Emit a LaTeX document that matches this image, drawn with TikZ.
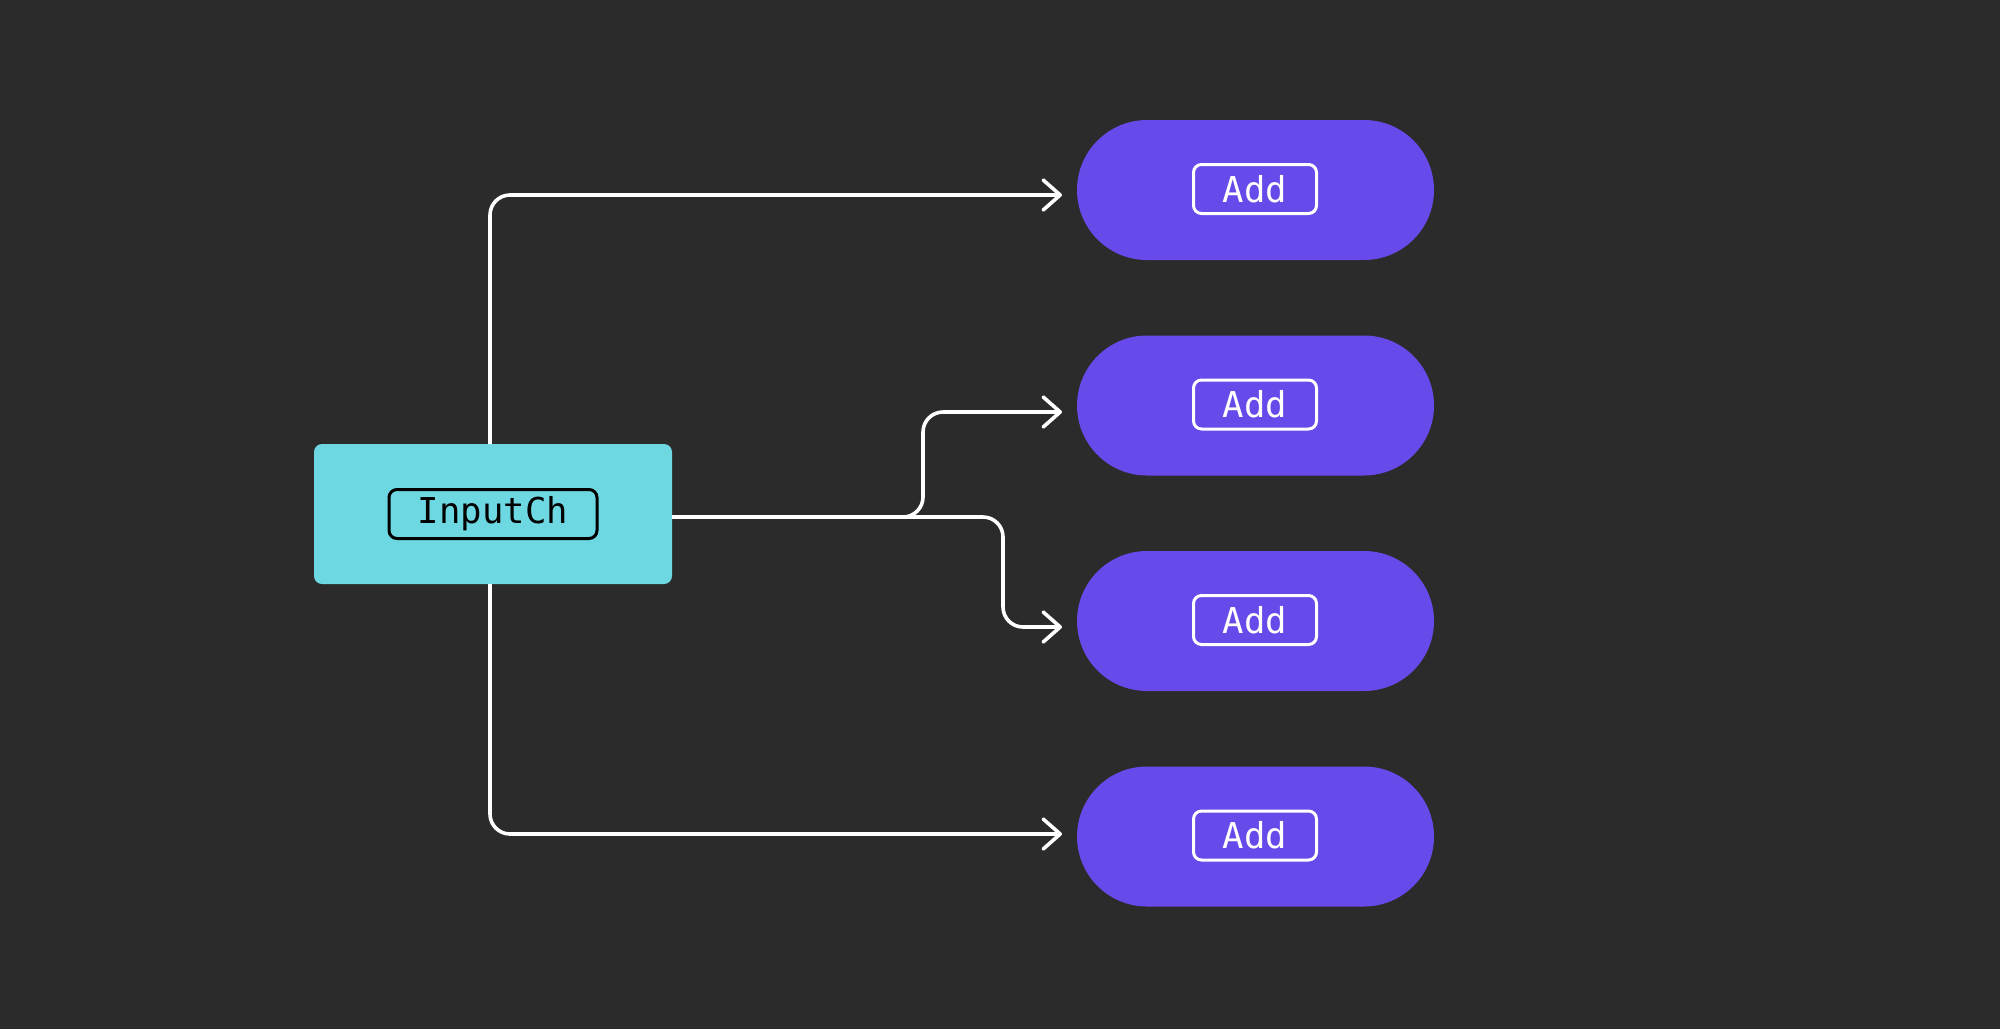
\documentclass[tikz,border=0pt]{standalone}
\usepackage{fontspec}
\newfontfamily\monof{DejaVu Sans Mono}
\usetikzlibrary{arrows.meta}
\definecolor{bgc}{HTML}{2B2B2B}
\definecolor{cyanc}{HTML}{6DD8E2}
\definecolor{purpc}{HTML}{6849E9}
\tikzset{
  inbox/.style={rectangle, rounded corners=4pt, fill=cyanc, minimum width=179pt, minimum height=70pt, inner sep=0pt, outer sep=0pt},
  addbox/.style={rectangle, rounded corners=35pt, fill=purpc, minimum width=178.5pt, minimum height=70pt, inner sep=0pt, outer sep=0pt},
  inlabel/.style={rectangle, rounded corners=4pt, draw=black, line width=1.5pt, minimum width=104pt, minimum height=24.5pt, inner sep=0pt, font=\monof\fontsize{17.8}{20}\selectfont, text=black},
  addlabel/.style={rectangle, rounded corners=4pt, draw=white, line width=1.5pt, minimum width=61.5pt, minimum height=24.5pt, inner sep=0pt, font=\monof\fontsize{17.8}{20}\selectfont, text=white},
  conn/.style={draw=white, line width=1.8pt, rounded corners=10pt, -{Straight Barb[length=8.5pt,width=15pt,line width=1.8pt,round]}}
}
\begin{document}
\begin{tikzpicture}[x=0.5pt,y=-0.5pt]
\fill[bgc] (0,0) rectangle (2000,1029);
\useasboundingbox (0,0) rectangle (2000,1029);

\node[inbox] (in) at (493,514) {};
\node[inlabel] (inl) at (in.center) {InputCh};

\node[addbox] (a1) at (1255.5,190) {};
\node[addlabel] (a1l) at (1255,189) {Add};
\node[addbox] (a2) at (1255.5,405.5) {};
\node[addlabel] (a2l) at (1255,404.5) {Add};
\node[addbox] (a3) at (1255.5,621) {};
\node[addlabel] (a3l) at (1255,620) {Add};
\node[addbox] (a4) at (1255.5,836.5) {};
\node[addlabel] (a4l) at (1255,835.5) {Add};

\coordinate (t1) at (1062,195);
\coordinate (t2) at (1062,412);
\coordinate (t3) at (1062,627);
\coordinate (t4) at (1062,834);
\coordinate (b2) at (923,412);
\coordinate (b3) at (1003,627);

\draw[conn] ([xshift=-1.5pt]in.north) |- (t1);
\draw[conn] ([xshift=-1.5pt]in.south) |- (t4);
\draw[conn] ([yshift=-1.5pt]in.east) -| (b2) -- (t2);
\draw[conn] ([yshift=-1.5pt]in.east) -| (b3) -- (t3);
\end{tikzpicture}
\end{document}
